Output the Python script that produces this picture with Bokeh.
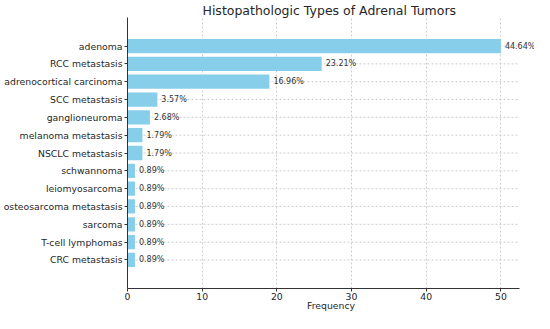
from bokeh.plotting import figure
from bokeh.models import ColumnDataSource, FactorRange, Range1d, FixedTicker
from bokeh.core.properties import value
from bokeh.embed import file_html
from bokeh.resources import INLINE

categories = ["adenoma", "RCC metastasis", "adrenocortical carcinoma", "SCC metastasis",
              "ganglioneuroma", "melanoma metastasis", "NSCLC metastasis", "schwannoma",
              "leiomyosarcoma", "osteosarcoma metastasis", "sarcoma", "T-cell lymphomas",
              "CRC metastasis"]
frequency = [50, 26, 19, 4, 3, 2, 2, 1, 1, 1, 1, 1, 1]
percent_labels = ["44.64%", "23.21%", "16.96%", "3.57%", "2.68%", "1.79%", "1.79%",
                  "0.89%", "0.89%", "0.89%", "0.89%", "0.89%", "0.89%"]
x_ticks = [0, 10, 20, 30, 40, 50]
x_axis_end = 52.5      # where the axis line / grid stop
x_view_end = 54.5      # extra room so that the last label is not clipped

FONT = "DejaVu Sans"
src = ColumnDataSource(dict(cat=categories, freq=frequency, lab=percent_labels,
                            g0=[0] * len(categories), g1=[x_axis_end] * len(categories)))

p = figure(width=534, height=313, output_backend="svg", toolbar_location=None,
           y_range=FactorRange(factors=list(reversed(categories)), range_padding=1.1,
                               range_padding_units="absolute"),
           x_range=Range1d(0, x_view_end),
           title="Histopathologic Types of Adrenal Tumors",
           min_border_left=0, min_border_right=0, min_border_top=0, min_border_bottom=0)

p.title.text_font = FONT
p.title.text_font_size = "12.5px"
p.title.text_font_style = "normal"
p.title.text_color = "#262626"
p.title.align = "left"
p.title.offset = 75
p.title.standoff = 0

# horizontal grid lines (stop at the axis end like the reference)
p.segment(x0="g0", x1="g1", y0="cat", y1="cat", source=src,
          line_color="#cccccc", line_dash="2 2", line_width=1)

p.hbar(y="cat", right="freq", left=0, height=0.8, source=src,
       fill_color="#87CEEB", line_color=None)
p.text(x="freq", y="cat", text="lab", source=src, x_offset=4,
       text_baseline="middle", text_align="left", text_font=value(FONT),
       text_font_size="8px", text_color="#333333")

p.outline_line_color = None
for ax in (p.xaxis[0], p.yaxis[0]):
    ax.axis_line_color = "#333333"
    ax.major_tick_line_color = "#333333"
    ax.major_tick_out = 3
    ax.major_tick_in = 0
    ax.minor_tick_line_color = None
    ax.major_label_text_font = FONT
    ax.major_label_text_font_size = "9.3px"
    ax.major_label_text_color = "#262626"
    ax.major_label_standoff = 2

p.xaxis.major_label_standoff = 1
p.xaxis.bounds = (0, x_axis_end)
p.xaxis.ticker = FixedTicker(ticks=x_ticks)
p.xaxis.axis_label = "Frequency"
p.xaxis.axis_label_text_font = FONT
p.xaxis.axis_label_text_font_size = "9.3px"
p.xaxis.axis_label_text_font_style = "normal"
p.xaxis.axis_label_text_color = "#262626"
p.xaxis.axis_label_standoff = -3

p.xgrid.grid_line_color = "#cccccc"
p.xgrid.grid_line_dash = "2 2"
p.ygrid.grid_line_color = None

open("out.html", "w").write(file_html(p, INLINE))
